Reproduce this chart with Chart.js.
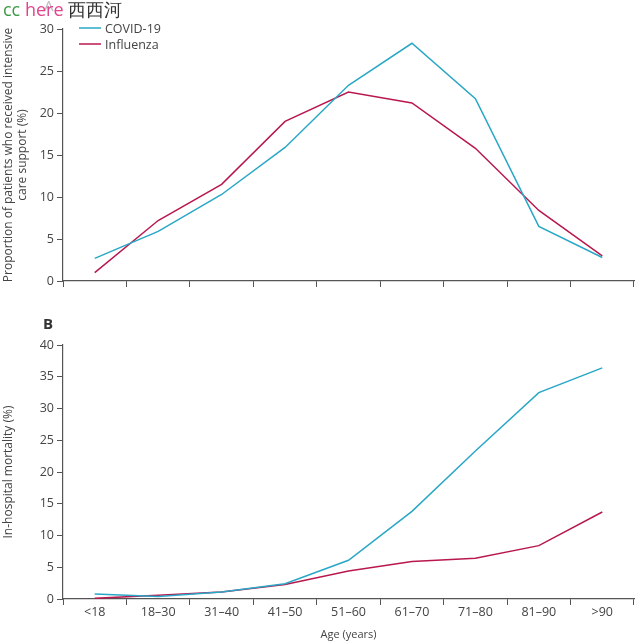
<!DOCTYPE html>
<html lang="en">
<head>
  <meta charset="UTF-8" />
  <title>COVID-19 vs Influenza by age</title>
  <script src="https://cdn.jsdelivr.net/npm/chart.js"></script>
  <style>
    html, body { margin: 0; padding: 0; background: #fff; }
    body { width: 642px; height: 641px; position: relative; overflow: hidden; font-family: 'Open Sans', sans-serif; }
    .panel { position: absolute; left: 0; width: 642px; }
    #panelA { top: 0; height: 300px; }
    #panelB { top: 300px; height: 341px; }
    .tag { position: absolute; font-weight: bold; font-size: 15px; color: #333; }
    .marca { position: absolute; left: 3px; top: -3px; font-size: 18px; white-space: nowrap; }
  </style>
</head>
<body>
<div class="panel" id="panelA"><canvas id="graficoA"></canvas></div>
<div class="panel" id="panelB"><canvas id="graficoB"></canvas></div>
<div class="tag" style="left:44px; top:-5px; color:#bbb; font-weight:normal;">A</div>
<div class="marca"><span style="color:#3f9a45">cc</span> <span style="color:#e0468e">here</span> <span style="color:#333">西西河</span></div>
<div class="tag" style="left:43px; top:313px;">B</div>

<script>
const categories = ['<18', '18–30', '31–40', '41–50', '51–60', '61–70', '71–80', '81–90', '>90'];
const seriesNames = ['COVID-19', 'Influenza'];

// panel A: intensive care support (%)
const icuCovid = [2.7, 5.9, 10.3, 15.9, 23.3, 28.3, 21.7, 6.5, 2.8];
const icuFlu = [1.0, 7.2, 11.5, 19.0, 22.5, 21.2, 15.8, 8.4, 3.0];

// panel B: in-hospital mortality (%)
const mortCovid = [0.8, 0.4, 1.1, 2.4, 6.1, 13.8, 23.3, 32.5, 36.4];
const mortFlu = [0.1, 0.6, 1.1, 2.3, 4.4, 5.9, 6.4, 8.4, 13.7];

const icuTicks = [0, 5, 10, 15, 20, 25, 30];
const mortTicks = [0, 5, 10, 15, 20, 25, 30, 35, 40];

const COLOR_COVID = '#2aa7c6';
const COLOR_FLU = '#b8184f';
const AXIS = '#555';
const TEXT = '#444';
const FONT = "'Open Sans', sans-serif";

Chart.defaults.font.family = FONT;
Chart.defaults.color = TEXT;

// leyenda dibujada dentro del area del grafico
const leyendaInterna = {
  id: 'leyendaInterna',
  afterDraw(chart, args, opts) {
    if (!opts.show) return;
    const ctx = chart.ctx;
    ctx.save();
    ctx.font = '12.5px ' + FONT;
    ctx.textBaseline = 'middle';
    chart.data.datasets.forEach((ds, i) => {
      const y = opts.y + i * 16;
      ctx.strokeStyle = ds.borderColor;
      ctx.lineWidth = 1.5;
      ctx.beginPath();
      ctx.moveTo(opts.x, y);
      ctx.lineTo(opts.x + 22, y);
      ctx.stroke();
      ctx.fillStyle = TEXT;
      ctx.fillText(ds.label, opts.x + 26, y + 1);
    });
    ctx.restore();
  }
};

function crearGrafico(id, covid, flu, ticks, cfg) {
  return new Chart(document.getElementById(id), {
    type: 'line',
    data: {
      labels: categories,
      datasets: [
        { label: seriesNames[0], data: covid, borderColor: COLOR_COVID, borderWidth: 1.5, pointRadius: 0, tension: 0 },
        { label: seriesNames[1], data: flu, borderColor: COLOR_FLU, borderWidth: 1.5, pointRadius: 0, tension: 0 }
      ]
    },
    options: {
      responsive: true,
      maintainAspectRatio: false,
      animation: false,
      layout: { padding: { top: cfg.top, right: 8, left: 0, bottom: 0 } },
      plugins: {
        legend: { display: false },
        tooltip: { enabled: false },
        leyendaInterna: cfg.legend
      },
      scales: {
        x: {
          offset: true,
          grid: { offset: true, drawOnChartArea: false, drawTicks: true, tickLength: 6, color: AXIS, lineWidth: 1 },
          border: { display: true, color: AXIS, width: 1.2 },
          ticks: { display: cfg.showX, font: { size: 12.5 }, color: TEXT, padding: 0, maxRotation: 0, autoSkip: false },
          title: { display: cfg.showX, text: 'Age (years)', font: { size: 11 }, color: TEXT, padding: { top: 3, bottom: 0 } },
          afterFit: s => { s.height = cfg.xHeight; }
        },
        y: {
          min: ticks[0],
          max: ticks[ticks.length - 1],
          afterBuildTicks: s => { s.ticks = ticks.map(v => ({ value: v })); },
          grid: { drawOnChartArea: false, drawTicks: true, tickLength: 6, color: AXIS, lineWidth: 1 },
          border: { display: true, color: AXIS, width: 1.2 },
          ticks: { font: { size: 12.5 }, color: TEXT, padding: 3 },
          title: { display: true, text: cfg.yTitle, font: { size: 12, lineHeight: 1.2 }, color: TEXT, padding: { top: 1, bottom: 0 } },
          afterFit: s => { s.width = 63; }
        }
      }
    },
    plugins: [leyendaInterna]
  });
}

crearGrafico('graficoA', icuCovid, icuFlu, icuTicks, {
  top: 29, xHeight: 19, showX: false,
  yTitle: ['Proportion of patients who received intensive', 'care support (%)'],
  legend: { show: true, x: 79, y: 28 }
});

crearGrafico('graficoB', mortCovid, mortFlu, mortTicks, {
  top: 45, xHeight: 42, showX: true,
  yTitle: 'In-hospital mortality (%)',
  legend: { show: false }
});
</script>
</body>
</html>
